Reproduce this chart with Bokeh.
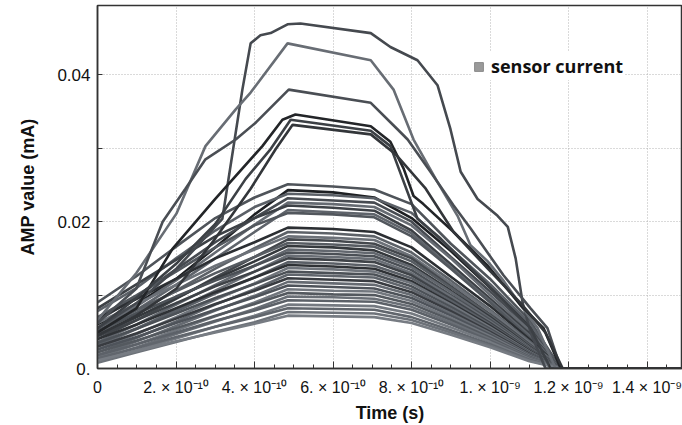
from bokeh.plotting import figure
from bokeh.models import ColumnDataSource, FixedTicker, Legend, LegendItem, Range1d
from bokeh.embed import file_html
from bokeh.resources import INLINE

# ---------------- data (time in s, current in mA) ----------------
time_grid = [0, 1e-10, 2e-10, 3e-10, 4e-10, 4.85e-10, 6e-10, 7.05e-10,
             8e-10, 9e-10, 1.0e-9, 1.1e-9, 1.18e-9, 1.5e-9]

# main bundle of traces, sampled on time_grid
bundle = [
    [0.0090, 0.0126, 0.0166, 0.0205, 0.0233, 0.0251, 0.0248, 0.0244, 0.0224, 0.0170, 0.0122, 0.0066, 0.0, 0.0],
    [0.0060, 0.0088, 0.0122, 0.0165, 0.0210, 0.0243, 0.0240, 0.0233, 0.0205, 0.0160, 0.0110, 0.0060, 0.0, 0.0],
    [0.0078, 0.0110, 0.0150, 0.0188, 0.0220, 0.0238, 0.0236, 0.0232, 0.0212, 0.0163, 0.0115, 0.0062, 0.0, 0.0],
    [0.0065, 0.0098, 0.0135, 0.0172, 0.0205, 0.0232, 0.0229, 0.0226, 0.0200, 0.0152, 0.0105, 0.0055, 0.0, 0.0],
    [0.0055, 0.0085, 0.0120, 0.0158, 0.0196, 0.0226, 0.0224, 0.0220, 0.0195, 0.0150, 0.0100, 0.0052, 0.0, 0.0],
    [0.0082, 0.0115, 0.0148, 0.0180, 0.0205, 0.0222, 0.0219, 0.0215, 0.0188, 0.0142, 0.0095, 0.0048, 0.0, 0.0],
    [0.0050, 0.0080, 0.0114, 0.0150, 0.0186, 0.0216, 0.0213, 0.0210, 0.0184, 0.0138, 0.0092, 0.0045, 0.0, 0.0],
    [0.0070, 0.0100, 0.0132, 0.0165, 0.0195, 0.0212, 0.0210, 0.0206, 0.0180, 0.0136, 0.0090, 0.0042, 0.0, 0.0],
    [0.0068, 0.0095, 0.0122, 0.0150, 0.0172, 0.0192, 0.0190, 0.0186, 0.0165, 0.0125, 0.0085, 0.0040, 0.0, 0.0],
    [0.0048, 0.0076, 0.0106, 0.0136, 0.0164, 0.0186, 0.0184, 0.0180, 0.0158, 0.0120, 0.0080, 0.0037, 0.0, 0.0],
    [0.0062, 0.0088, 0.0114, 0.0140, 0.0162, 0.0180, 0.0178, 0.0175, 0.0153, 0.0116, 0.0078, 0.0035, 0.0, 0.0],
    [0.0040, 0.0066, 0.0095, 0.0124, 0.0152, 0.0176, 0.0174, 0.0170, 0.0150, 0.0112, 0.0074, 0.0033, 0.0, 0.0],
    [0.0055, 0.0080, 0.0105, 0.0130, 0.0152, 0.0171, 0.0169, 0.0166, 0.0146, 0.0110, 0.0072, 0.0032, 0.0, 0.0],
    [0.0045, 0.0070, 0.0096, 0.0122, 0.0146, 0.0167, 0.0165, 0.0161, 0.0141, 0.0106, 0.0070, 0.0030, 0.0, 0.0],
    [0.0036, 0.0060, 0.0087, 0.0114, 0.0140, 0.0162, 0.0160, 0.0157, 0.0138, 0.0104, 0.0068, 0.0029, 0.0, 0.0],
    [0.0052, 0.0075, 0.0098, 0.0120, 0.0140, 0.0158, 0.0156, 0.0153, 0.0134, 0.0100, 0.0066, 0.0028, 0.0, 0.0],
    [0.0030, 0.0054, 0.0080, 0.0106, 0.0132, 0.0154, 0.0152, 0.0149, 0.0130, 0.0098, 0.0064, 0.0027, 0.0, 0.0],
    [0.0044, 0.0066, 0.0089, 0.0112, 0.0132, 0.0150, 0.0148, 0.0145, 0.0127, 0.0095, 0.0062, 0.0026, 0.0, 0.0],
    [0.0033, 0.0055, 0.0078, 0.0102, 0.0124, 0.0145, 0.0143, 0.0140, 0.0123, 0.0092, 0.0060, 0.0025, 0.0, 0.0],
    [0.0040, 0.0060, 0.0082, 0.0104, 0.0124, 0.0141, 0.0139, 0.0136, 0.0119, 0.0089, 0.0058, 0.0024, 0.0, 0.0],
    [0.0026, 0.0047, 0.0070, 0.0094, 0.0116, 0.0137, 0.0135, 0.0132, 0.0116, 0.0087, 0.0056, 0.0023, 0.0, 0.0],
    [0.0035, 0.0054, 0.0075, 0.0096, 0.0115, 0.0132, 0.0130, 0.0128, 0.0112, 0.0084, 0.0054, 0.0022, 0.0, 0.0],
    [0.0022, 0.0042, 0.0064, 0.0087, 0.0108, 0.0128, 0.0126, 0.0124, 0.0108, 0.0081, 0.0052, 0.0021, 0.0, 0.0],
    [0.0030, 0.0048, 0.0068, 0.0088, 0.0106, 0.0123, 0.0121, 0.0119, 0.0104, 0.0078, 0.0050, 0.0020, 0.0, 0.0],
    [0.0018, 0.0037, 0.0058, 0.0079, 0.0099, 0.0118, 0.0116, 0.0114, 0.0100, 0.0075, 0.0048, 0.0019, 0.0, 0.0],
    [0.0026, 0.0043, 0.0062, 0.0080, 0.0097, 0.0113, 0.0111, 0.0109, 0.0096, 0.0072, 0.0046, 0.0018, 0.0, 0.0],
    [0.0015, 0.0033, 0.0052, 0.0071, 0.0090, 0.0108, 0.0106, 0.0105, 0.0092, 0.0069, 0.0044, 0.0017, 0.0, 0.0],
    [0.0022, 0.0038, 0.0055, 0.0072, 0.0088, 0.0103, 0.0101, 0.0100, 0.0088, 0.0066, 0.0042, 0.0016, 0.0, 0.0],
    [0.0012, 0.0029, 0.0047, 0.0064, 0.0081, 0.0098, 0.0097, 0.0095, 0.0084, 0.0063, 0.0040, 0.0015, 0.0, 0.0],
    [0.0018, 0.0033, 0.0049, 0.0065, 0.0079, 0.0093, 0.0092, 0.0091, 0.0080, 0.0060, 0.0038, 0.0014, 0.0, 0.0],
    [0.0010, 0.0025, 0.0041, 0.0057, 0.0072, 0.0087, 0.0086, 0.0085, 0.0075, 0.0056, 0.0036, 0.0013, 0.0, 0.0],
    [0.0014, 0.0028, 0.0043, 0.0057, 0.0070, 0.0082, 0.0081, 0.0080, 0.0070, 0.0052, 0.0033, 0.0012, 0.0, 0.0],
    [0.0008, 0.0022, 0.0036, 0.0050, 0.0063, 0.0077, 0.0076, 0.0075, 0.0066, 0.0049, 0.0031, 0.0011, 0.0, 0.0],
    [0.0011, 0.0024, 0.0037, 0.0049, 0.0061, 0.0072, 0.0071, 0.0070, 0.0062, 0.0046, 0.0029, 0.0010, 0.0, 0.0],
]

# the few large traces, each with its own time samples
trace_a_t = [0, 0.99e-10, 2.01e-10, 3.18e-10, 3.69e-10, 3.90e-10, 4.15e-10, 4.41e-10, 4.84e-10, 5.17e-10,
             6.96e-10, 7.46e-10, 8.15e-10, 8.66e-10, 8.99e-10, 9.25e-10, 9.68e-10, 10.19e-10, 10.45e-10,
             10.65e-10, 10.83e-10, 11.03e-10, 11.41e-10, 1.5e-9]
trace_a_i = [0.0055, 0.0089, 0.0136, 0.0204, 0.0380, 0.0443, 0.0454, 0.0457, 0.0469, 0.0470,
             0.0457, 0.0438, 0.0420, 0.0386, 0.0326, 0.0268, 0.0231, 0.0208, 0.0193,
             0.0150, 0.0089, 0.0049, 0.0, 0.0]

trace_b_t = [0, 0.99e-10, 2.01e-10, 2.75e-10, 3.52e-10, 3.90e-10, 4.84e-10, 6.96e-10, 7.54e-10, 8.05e-10,
             8.66e-10, 9.17e-10, 9.50e-10, 9.94e-10, 10.35e-10, 10.78e-10, 11.21e-10, 11.67e-10, 1.5e-9]
trace_b_i = [0.0066, 0.0130, 0.0211, 0.0303, 0.0353, 0.0376, 0.0443, 0.0420, 0.0380, 0.0312,
             0.0254, 0.0208, 0.0168, 0.0146, 0.0119, 0.0086, 0.0055, 0.0, 0.0]

trace_c_t = [0, 0.99e-10, 1.66e-10, 2.24e-10, 2.75e-10, 3.52e-10, 4.03e-10, 4.87e-10, 6.96e-10, 7.64e-10,
             7.90e-10, 8.48e-10, 9.07e-10, 9.50e-10, 10.34e-10, 11.03e-10, 11.46e-10, 11.80e-10, 1.5e-9]
trace_c_i = [0.0062, 0.0109, 0.0200, 0.0245, 0.0285, 0.0312, 0.0335, 0.0380, 0.0362, 0.0326,
             0.0312, 0.0268, 0.0222, 0.0191, 0.0127, 0.0082, 0.0055, 0.0, 0.0]

trace_d_t = [0, 0.99e-10, 1.91e-10, 3.0e-10, 4.2e-10, 4.71e-10, 5.04e-10, 6.96e-10, 7.46e-10, 7.80e-10,
             8.05e-10, 8.30e-10, 9.07e-10, 9.94e-10, 10.78e-10, 11.36e-10, 11.80e-10, 1.5e-9]
trace_d_i = [0.0049, 0.0082, 0.0163, 0.0231, 0.0303, 0.0339, 0.0346, 0.0330, 0.0309, 0.0272,
             0.0235, 0.0224, 0.0186, 0.0140, 0.0086, 0.0055, 0.0, 0.0]

trace_e_t = [0, 0.99e-10, 2.01e-10, 3.0e-10, 3.77e-10, 4.41e-10, 4.92e-10, 6.96e-10, 7.46e-10, 8.15e-10,
             8.74e-10, 9.50e-10, 10.27e-10, 11.03e-10, 11.54e-10, 1.5e-9]
trace_e_i = [0.0055, 0.0096, 0.0143, 0.0197, 0.0258, 0.0299, 0.0339, 0.0324, 0.0303, 0.0204,
             0.0177, 0.0137, 0.0096, 0.0055, 0.0, 0.0]

trace_f_t = [0, 0.99e-10, 2.01e-10, 3.0e-10, 3.9e-10, 4.54e-10, 4.97e-10, 6.96e-10, 7.59e-10, 8.36e-10,
             9.07e-10, 9.94e-10, 10.78e-10, 11.41e-10, 11.85e-10, 1.5e-9]
trace_f_i = [0.0045, 0.0072, 0.0109, 0.0177, 0.0245, 0.0299, 0.0332, 0.0319, 0.0292, 0.0245,
             0.0186, 0.0136, 0.0089, 0.0049, 0.0, 0.0]

big_times = [trace_a_t, trace_b_t, trace_c_t, trace_d_t, trace_e_t, trace_f_t]
big_currents = [trace_a_i, trace_b_i, trace_c_i, trace_d_i, trace_e_i, trace_f_i]

x_tick_values = [0, 2e-10, 4e-10, 6e-10, 8e-10, 1e-9, 1.2e-9, 1.4e-9]
x_tick_labels = ["0", "2. × 10⁻¹⁰", "4. × 10⁻¹⁰", "6. × 10⁻¹⁰", "8. × 10⁻¹⁰",
                 "1. × 10⁻⁹", "1.2 × 10⁻⁹", "1.4 × 10⁻⁹"]
y_tick_values = [0, 0.01, 0.02, 0.03, 0.04]
y_tick_labels = ["0.", "", "0.02", "", "0.04"]

# ---------------- styling ----------------
bundle_colors = ["#4f545a", "#1e2023", "#5b6067", "#474b51", "#666b72", "#3d4146", "#5f646b", "#52575d",
                 "#2c2f33", "#5d6268", "#6c7178", "#44484d", "#575c62", "#35393d", "#62676e", "#4b5056",
                 "#696e75", "#3f4348", "#5a5f66", "#2f3236", "#6f747b", "#4c5157", "#60656c", "#393c41",
                 "#666b72", "#4e535a", "#72777e", "#54595f", "#6a6f76", "#5c6168", "#757a81", "#61666d",
                 "#6d7279", "#777c83"]
big_colors = ["#45494f", "#686d74", "#4a4e54", "#232528", "#3c4045", "#33363a"]

p = figure(width=682, height=425, output_backend="svg", toolbar_location=None,
           x_range=Range1d(0, 1.49e-9), y_range=Range1d(0, 0.04946),
           min_border_left=97, min_border_right=0, min_border_top=5, min_border_bottom=54)

xs = [time_grid for _ in bundle] + big_times
ys = bundle + big_currents
cols = bundle_colors[:len(bundle)] + big_colors
p.multi_line(xs="xs", ys="ys", line_color="color", line_width=2.6,
             source=ColumnDataSource(dict(xs=xs, ys=ys, color=cols)))

# legend swatch (a single box kept outside the visible range)
sw = p.quad(left=[-2e-9], right=[-1e-9], bottom=[-2.0], top=[-1.0],
            fill_color="#9a9a9a", line_color="#8a8a8a", line_width=1)
legend = Legend(items=[LegendItem(label="sensor current", renderers=[sw])],
                location=(374, 288), background_fill_color="white", background_fill_alpha=1,
                border_line_alpha=0, label_text_font="Open Sans", label_text_font_style="bold",
                label_text_font_size="18px", label_text_color="#111111",
                glyph_width=11, glyph_height=11, padding=2, margin=0, label_standoff=7,
                label_height=18)
p.add_layout(legend)

# axes
tick_font = "Liberation Sans"
p.xaxis.ticker = FixedTicker(ticks=x_tick_values, minor_ticks=[i * 0.5e-10 for i in range(31)])
p.xaxis.major_label_overrides = dict(zip(x_tick_values, x_tick_labels))
p.yaxis.ticker = FixedTicker(ticks=y_tick_values)
p.yaxis.major_label_overrides = dict(zip(y_tick_values, y_tick_labels))
for ax in (p.xaxis, p.yaxis):
    ax.major_label_text_font = tick_font
    ax.major_label_text_color = "#111111"
    ax.axis_label_text_font = tick_font
    ax.axis_label_text_font_style = "bold"
    ax.axis_label_text_color = "#111111"
    ax.axis_line_color = "#333333"
    ax.axis_line_width = 1.5
    ax.major_tick_line_color = "#333333"
    ax.minor_tick_line_color = "#333333"
    ax.major_tick_out = 0
    ax.minor_tick_out = 0
p.xaxis.axis_label = "Time (s)"
p.yaxis.axis_label = "AMP value (mA)"
p.xaxis.major_label_text_font_size = "16px"
p.yaxis.major_label_text_font_size = "17px"
p.xaxis.axis_label_text_font_size = "18px"
p.yaxis.axis_label_text_font_size = "18px"
p.xaxis.major_tick_in = 7
p.xaxis.minor_tick_in = 4
p.yaxis.major_tick_in = 5
p.yaxis.minor_tick_in = 0
p.xaxis.major_label_standoff = 10
p.xaxis.axis_label_standoff = 4
p.yaxis.major_label_standoff = 7
p.yaxis.axis_label_standoff = 16

# grid
for g in (p.xgrid, p.ygrid):
    g.grid_line_color = "#b4b4b4"
    g.grid_line_dash = "1 2"
    g.grid_line_width = 1
p.xgrid.ticker = FixedTicker(ticks=x_tick_values)
p.ygrid.ticker = FixedTicker(ticks=y_tick_values)

p.outline_line_color = "#333333"
p.outline_line_width = 1.5
p.background_fill_color = "white"
p.border_fill_color = "white"

open("out.html", "w").write(file_html(p, INLINE))
